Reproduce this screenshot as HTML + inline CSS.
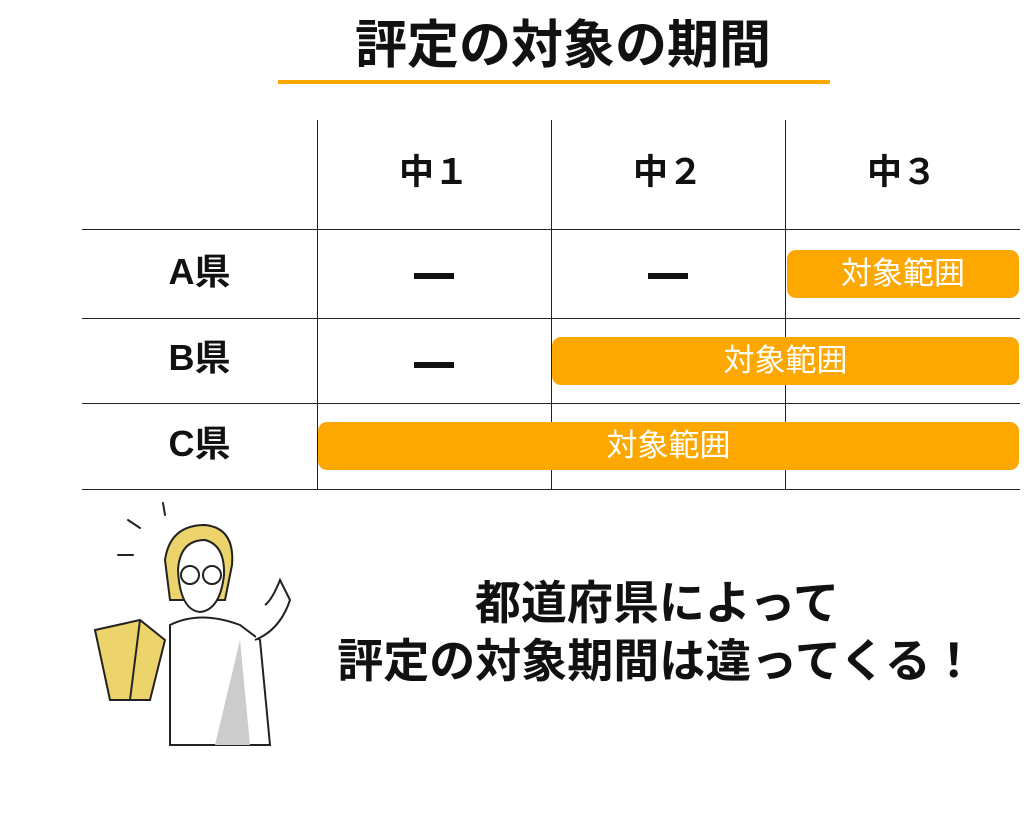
<!DOCTYPE html>
<html><head><meta charset="utf-8"><style>
body{margin:0;width:1024px;height:829px;background:#fff;position:relative;overflow:hidden;font-family:"Liberation Sans","Noto Sans CJK JP",sans-serif;color:#111}
.a{position:absolute}
.t{font-weight:bold;text-align:center}
.h{background:#222;}
.bar{position:absolute;background:#fca800;border-radius:9px;color:#fff;font-size:31px;text-align:center;line-height:48px;height:48px}
</style></head><body>
<div class="a t" style="left:263px;width:600px;top:14px;font-size:52px;line-height:64px">評定の対象の期間</div>
<div class="a" style="left:278px;top:80px;width:552px;height:4px;background:#fca800"></div>

<div class="a h" style="left:82px;top:229px;width:938px;height:1px"></div>
<div class="a h" style="left:82px;top:318px;width:938px;height:1px"></div>
<div class="a h" style="left:82px;top:403px;width:938px;height:1px"></div>
<div class="a h" style="left:82px;top:489px;width:938px;height:1px"></div>
<div class="a h" style="left:317px;top:120px;width:1px;height:370px"></div>
<div class="a h" style="left:551px;top:120px;width:1px;height:370px"></div>
<div class="a h" style="left:785px;top:120px;width:1px;height:370px"></div>

<div class="a t" style="left:317px;width:234px;top:152px;font-size:35px;line-height:42px">中１</div>
<div class="a t" style="left:551px;width:234px;top:152px;font-size:35px;line-height:42px">中２</div>
<div class="a t" style="left:785px;width:234px;top:152px;font-size:35px;line-height:42px">中３</div>

<div class="a t" style="left:82px;width:235px;top:251px;font-size:36px;line-height:42px">A県</div>
<div class="a t" style="left:82px;width:235px;top:337px;font-size:36px;line-height:42px">B県</div>
<div class="a t" style="left:82px;width:235px;top:423px;font-size:36px;line-height:42px">C県</div>

<div class="a" style="left:414px;top:273px;width:40px;height:6px;background:#111"></div>
<div class="a" style="left:648px;top:273px;width:40px;height:6px;background:#111"></div>
<div class="a" style="left:414px;top:362px;width:40px;height:6px;background:#111"></div>

<div class="bar" style="left:787px;top:250px;width:232px">対象範囲</div>
<div class="bar" style="left:552px;top:337px;width:467px">対象範囲</div>
<div class="bar" style="left:318px;top:422px;width:701px">対象範囲</div>

<div class="a t" style="left:300px;width:714px;top:575px;font-size:46px;line-height:56px">都道府県によって</div>
<div class="a t" style="left:300px;width:714px;top:633px;font-size:46px;line-height:56px">評定の対象期間は違ってくる！</div>

<svg class="a" style="left:80px;top:495px" width="240" height="265" viewBox="80 495 240 265">
<g stroke="#222" stroke-width="2" fill="none" stroke-linecap="round">
<line x1="163" y1="503" x2="165" y2="515"/><line x1="128" y1="520" x2="140" y2="528"/><line x1="118" y1="555" x2="133" y2="555"/>
</g>
<path d="M165 560 Q170 525 205 525 Q235 528 232 565 L225 600 L170 600 Z" fill="#ecd36b" stroke="#222" stroke-width="2"/>
<path d="M178 570 Q180 540 205 540 Q225 545 224 575 Q220 610 200 612 Q180 610 178 570 Z" fill="#fff" stroke="#222" stroke-width="2"/>
<circle cx="190" cy="575" r="9" fill="none" stroke="#222" stroke-width="2"/><circle cx="212" cy="575" r="9" fill="none" stroke="#222" stroke-width="2"/>
<path d="M170 625 Q200 610 240 625 L260 640 L270 745 L170 745 Z" fill="#fff" stroke="#222" stroke-width="2"/>
<path d="M240 640 L215 745 L250 745 Z" fill="#ccc"/>
<path d="M255 640 Q280 630 290 600 L280 580 Q272 600 265 605" fill="#fff" stroke="#222" stroke-width="2"/>
<path d="M95 630 L140 620 L165 640 L150 700 L110 700 Z" fill="#ecd36b" stroke="#222" stroke-width="2"/>
<line x1="140" y1="620" x2="130" y2="700" stroke="#222" stroke-width="2"/>
</svg>
</body></html>
